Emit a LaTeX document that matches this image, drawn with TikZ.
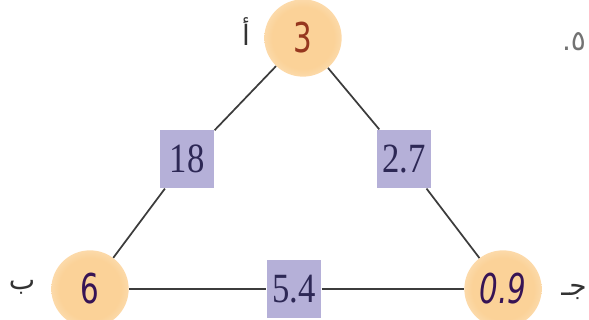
\documentclass[tikz,border=0pt]{standalone}
\usepackage{fontspec}
\setmainfont{Liberation Serif}
\newfontfamily\arabicfont[Script=Arabic]{DejaVu Sans}
\newfontfamily\handfont{DejaVu Sans}
\TeXXeTstate=1
\definecolor{pk}{RGB}{251,210,152}
\definecolor{lav}{RGB}{181,176,216}
\definecolor{navy}{RGB}{45,40,85}
\definecolor{brn}{RGB}{150,55,30}
\definecolor{dpur}{RGB}{55,20,85}
\definecolor{lnc}{RGB}{60,60,60}
\pgfdeclareradialshading{glow}{\pgfpoint{0bp}{0bp}}{color(0bp)=(pk); color(20bp)=(pk); color(36bp)=(pk!45!white); color(50bp)=(white)}
\tikzset{
  glowc/.style={circle, minimum size=58pt, inner sep=0pt, shading=glow},
  valbox/.style={rectangle, fill=lav, minimum width=41pt, minimum height=44pt, inner sep=0pt, text=navy, font=\fontsize{26}{26}\selectfont},
  hand/.style={font=\handfont\fontsize{22}{22}\selectfont},
  conn/.style={draw=lnc, line width=1.3pt},
  arlab/.style={font=\arabicfont\fontsize{21}{21}\selectfont, text=black!80}
}
\begin{document}
\begin{tikzpicture}[x=0.75pt,y=-0.75pt]
\useasboundingbox (0,0) rectangle (589,320);
\node[glowc] (A) at (303,38) {};
\node[glowc] (B) at (90,289) {};
\node[glowc] (C) at (503,289) {};
\node[valbox] (b18) at (187,159) {\scalebox{1}[1.2]{18}};
\node[valbox] (b27) at (404,159) {\scalebox{1}[1.2]{2.7}};
\node[valbox] (b54) at (294,289) {\scalebox{1}[1.2]{5.4}};
\draw[conn] (A) -- (b18) -- (B);
\draw[conn] (A) -- (b27) -- (C);
\draw[conn] (B) -- (b54) -- (C);
\node[hand, text=brn] (tA) at (A) {\scalebox{1}[1.4]{3}};
\node[hand, text=dpur] (tB) at (B) {\scalebox{1}[1.4]{6}};
\node[hand, text=dpur, font=\handfont\itshape\fontsize{22}{22}\selectfont] (tC) at (C) {\scalebox{1}[1.4]{0.9}};
\node[arlab] (la) at (246,32) {\beginR أ\endR};
\node[arlab] (lb) at (22,287) {\beginR ب\endR};
\node[arlab] (lc) at (574,292) {\beginR جـ\endR};
\node[font=\arabicfont\fontsize{21}{21}\selectfont, text=black!55] (n5) at (574,42) {٥.};
\end{tikzpicture}
\end{document}
